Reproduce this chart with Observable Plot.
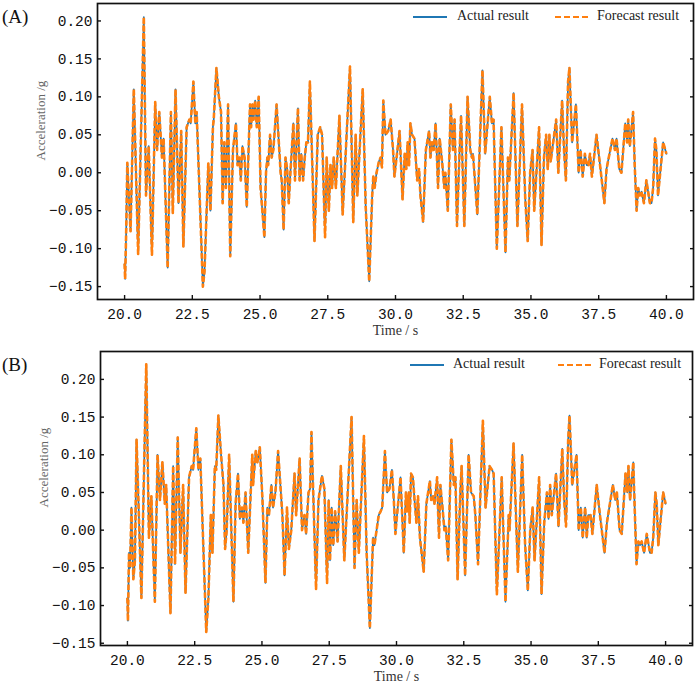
<!DOCTYPE html>
<html><head><meta charset="utf-8">
<script src="https://cdn.jsdelivr.net/npm/d3@7"></script>
<script src="https://cdn.jsdelivr.net/npm/@observablehq/plot@0.6"></script>
<style>
body{margin:0;background:#fff;}
#wrap{position:relative;width:699px;height:688px;font-family:"Liberation Serif",serif;color:#111;overflow:hidden;}
.panel{position:absolute;left:0;}
.tag{position:absolute;left:2px;font-size:19px;line-height:1;}
.lg{position:absolute;font-size:14px;line-height:1;white-space:nowrap;color:#222;}
.sw{position:absolute;}
</style></head><body>
<div id="wrap"></div>
<script>
// ---- Panel (A) : time (s) and acceleration (g), turning points
const timeA = [20.00,20.02,20.06,20.10,20.22,20.34,20.50,20.71,20.79,20.89,21.01,21.13,21.20,21.28,21.38,21.44,21.59,21.71,21.78,21.88,21.99,22.09,22.17,22.29,22.39,22.44,22.54,22.61,22.66,22.77,22.89,22.95,23.09,23.17,23.26,23.29,23.39,23.48,23.56,23.62,23.68,23.74,23.82,23.90,24.00,24.11,24.17,24.24,24.29,24.35,24.43,24.51,24.63,24.67,24.72,24.76,24.82,24.88,24.95,25.02,25.16,25.22,25.27,25.30,25.37,25.43,25.49,25.61,25.76,25.80,25.87,25.94,26.00,26.06,26.12,26.23,26.29,26.40,26.46,26.52,26.59,26.65,26.71,26.77,26.84,27.01,27.13,27.22,27.29,27.40,27.46,27.54,27.60,27.66,27.72,27.80,27.93,28.05,
28.32,28.44,28.53,28.59,28.79,28.90,29.03,29.14,29.18,29.23,29.30,29.39,29.45,29.50,29.55,29.63,29.73,29.82,29.91,29.96,30.04,30.15,30.26,30.34,30.40,30.45,30.50,30.55,30.61,30.70,30.80,30.87,30.92,31.02,31.12,31.24,31.29,31.35,31.41,31.48,31.53,31.57,31.63,31.72,31.80,31.84,31.93,32.04,32.12,32.18,32.27,32.36,32.42,32.54,32.66,32.76,32.82,32.86,32.91,33.02,33.21,33.31,33.48,33.56,33.62,33.74,33.91,34.06,34.15,34.20,34.36,34.50,34.67,34.79,34.88,34.97,35.06,35.12,35.30,35.39,35.48,35.56,35.62,35.68,35.73,35.93,36.01,36.15,36.22,36.29,36.37,36.42,36.52,36.66,36.76,36.83,36.91,36.99,37.06,37.12,37.18,37.25,37.42,37.55,37.71,37.79,38.01,38.10,38.16,38.26,38.34,38.48,38.55,38.59,38.65,38.77,38.83,38.90,38.96,39.02,39.08,39.17,39.26,39.39,39.45,39.51,39.58,39.63,39.69,39.88,40.00];
const actualA = [-0.12,-0.14,-0.075,0.013,-0.077,0.11,-0.107,0.205,-0.03,0.035,-0.108,0.093,0.03,0.08,0.02,0.045,-0.125,0.08,-0.053,0.11,-0.04,0.055,-0.097,0.06,0.07,0.065,0.12,0.065,0.08,-0.03,-0.15,-0.13,0.012,-0.05,0.06,0.07,0.138,0.1,0.08,-0.04,0.04,-0.02,0.09,-0.11,0.03,0.065,0.01,0.02,-0.01,0.035,0.02,-0.045,0.09,0.06,0.09,0.07,0.095,0.06,0.1,-0.02,-0.085,0.0,0.02,0.01,0.05,0.02,0.03,0.09,0.0,-0.01,-0.075,0.02,0.005,-0.04,0.0,0.065,-0.01,0.085,-0.01,0.025,-0.01,0.02,0.04,0.04,0.12,-0.09,0.05,0.06,0.05,-0.085,0.02,-0.05,0.01,-0.02,0.02,-0.02,0.075,-0.055,
0.14,-0.065,0.05,-0.03,0.11,-0.045,-0.143,-0.03,-0.005,-0.02,0.0,0.015,0.02,0.007,0.095,0.05,0.055,0.07,0.03,-0.005,0.02,0.055,-0.035,0.025,0.005,0.04,0.01,0.065,0.05,0.045,-0.01,0.005,-0.03,-0.065,0.03,0.055,0.02,0.04,0.03,0.065,0.02,-0.02,0.045,0.015,-0.02,0.0,-0.05,0.09,0.03,0.07,-0.07,0.025,0.075,-0.07,0.1,0.03,0.02,0.025,0.0,-0.055,0.135,0.025,0.1,0.065,0.07,-0.1,0.06,-0.105,0.02,-0.01,0.105,-0.07,0.09,-0.035,-0.09,0.0,0.03,-0.05,0.06,-0.095,0.02,0.05,0.005,0.05,0.015,0.07,0.0,0.095,0.03,-0.01,0.12,0.138,0.04,0.09,0.0,0.03,-0.005,0.025,0.01,0.01,0.025,-0.005,0.05,0.01,-0.04,0.005,0.045,0.03,0.045,0.005,0.0,0.065,0.04,0.07,0.035,0.08,0.01,-0.05,-0.02,-0.03,-0.025,-0.04,-0.01,-0.04,-0.04,-0.02,0.045,0.03,-0.03,0.04,0.025];
// forecast curve coincides with the actual curve in the figure
const forecastA = actualA;

// ---- Panel (B)
const timeB = [20.00,20.02,20.06,20.10,20.15,20.22,20.28,20.34,20.52,20.70,20.80,20.89,21.02,21.12,21.21,21.30,21.39,21.44,21.60,21.70,21.77,21.87,21.97,22.07,22.16,22.29,22.39,22.44,22.56,22.64,22.71,22.80,22.93,23.01,23.10,23.16,23.25,23.30,23.38,23.48,23.57,23.63,23.69,23.78,23.94,24.02,24.11,24.18,24.26,24.31,24.39,24.49,24.64,24.67,24.77,24.83,24.92,25.02,25.13,25.20,25.26,25.35,25.41,25.50,25.60,25.76,25.84,25.93,26.00,26.09,26.21,26.27,26.40,26.49,26.58,26.64,26.73,26.79,26.84,27.01,27.10,27.16,27.23,27.32,27.42,27.48,27.53,27.59,27.65,27.72,27.81,27.93,28.06,
28.33,28.44,28.52,28.60,28.79,28.89,29.01,29.10,29.13,29.18,29.26,29.34,29.41,29.47,29.57,29.65,29.74,29.83,29.90,29.96,30.02,30.15,30.27,30.35,30.40,30.46,30.49,30.54,30.61,30.67,30.74,30.80,30.87,31.01,31.11,31.24,31.29,31.36,31.41,31.51,31.55,31.58,31.63,31.71,31.78,31.83,31.92,32.04,32.13,32.19,32.27,32.37,32.42,32.55,32.68,32.77,32.87,32.93,33.03,33.21,33.31,33.46,33.55,33.61,33.73,33.91,34.05,34.17,34.20,34.35,34.51,34.67,34.78,34.88,34.97,35.06,35.13,35.30,35.39,35.49,35.59,35.65,35.71,35.77,35.93,36.02,36.16,36.23,36.30,36.38,36.43,36.53,36.69,36.77,36.85,36.92,37.01,37.07,37.13,37.21,37.28,37.44,37.56,37.73,37.82,38.04,38.13,38.19,38.29,38.37,38.51,38.58,38.62,38.68,38.80,38.86,38.92,38.99,39.05,39.11,39.20,39.30,39.42,39.48,39.54,39.62,39.67,39.73,39.91,40.00];
const actualB = [-0.09,-0.12,-0.03,-0.05,0.03,-0.065,-0.04,0.12,-0.09,0.22,-0.01,0.045,-0.095,0.1,0.04,0.09,0.035,0.06,-0.11,0.085,-0.045,0.123,-0.03,0.06,-0.083,0.07,0.085,0.08,0.135,0.08,0.095,0.0,-0.135,-0.09,0.02,-0.03,0.085,0.08,0.152,0.1,0.06,-0.025,0.0,0.1,-0.095,0.035,0.075,0.015,0.03,0.01,0.05,-0.03,0.1,0.06,0.105,0.09,0.11,0.04,-0.07,0.03,0.02,0.06,0.03,0.05,0.105,0.02,-0.06,0.03,-0.025,0.0,0.075,0.02,0.095,0.0,0.02,-0.005,0.05,0.055,0.13,-0.078,0.04,0.055,0.072,0.055,-0.07,0.04,-0.04,0.03,-0.02,0.025,-0.015,0.085,-0.04,
0.15,-0.05,0.04,-0.03,0.125,-0.03,-0.13,-0.04,-0.01,-0.02,0.0,0.02,0.025,0.03,0.105,0.05,0.055,0.08,0.04,-0.005,0.02,0.07,-0.03,0.05,0.025,0.05,0.01,0.075,0.07,0.04,0.01,0.045,-0.01,-0.055,0.035,0.065,0.04,0.045,0.035,0.07,0.02,-0.01,0.06,0.03,0.0,0.005,-0.04,0.12,0.06,0.07,-0.065,0.05,0.085,-0.06,0.1,0.05,0.045,0.02,-0.045,0.145,0.03,0.085,0.08,0.075,-0.085,0.07,-0.095,0.02,0.0,0.115,-0.055,0.1,-0.02,-0.08,0.0,0.03,-0.04,0.07,-0.085,0.01,0.05,0.015,0.06,0.02,0.075,0.005,0.108,0.04,0.005,0.12,0.152,0.06,0.1,0.0,0.03,-0.01,0.03,-0.01,0.02,0.02,-0.005,0.06,0.02,-0.03,0.01,0.06,0.04,0.05,0.0,-0.005,0.075,0.05,0.085,0.04,0.09,0.02,-0.045,-0.015,-0.02,-0.015,-0.03,-0.005,-0.03,-0.03,-0.01,0.05,0.035,-0.02,0.05,0.035];
const forecastB = actualB;

// ---- axes
const xTicks = [20, 22.5, 25, 27.5, 30, 32.5, 35, 37.5, 40];
const yTicks = [-0.15, -0.10, -0.05, 0.00, 0.05, 0.10, 0.15, 0.20];
const xLabel = "Time / s";
const yLabel = "Acceleration /g";
const seriesNames = ["Actual result", "Forecast result"];
const panelTags = ["(A)", "(B)"];

const BLUE = "#1f77b4", ORANGE = "#ff7f0e";
const wrap = document.getElementById("wrap");

function makePanel(cfg) {
  const rows = cfg.time.map((t, i) => ({t, a: cfg.actual[i], f: cfg.forecast[i]}));
  const fmtY = d => d.toFixed(2).replace("-", "\u2212");
  const fmtX = d => d.toFixed(1);
  const chart = Plot.plot({
    width: 699, height: cfg.height,
    marginTop: cfg.mt, marginBottom: cfg.mb, marginLeft: cfg.ml, marginRight: cfg.mr,
    style: {fontFamily: "Liberation Serif", background: "white", color: "#111", overflow: "visible"},
    x: {domain: [19, 41], label: null},
    y: {domain: cfg.yDomain, label: null},
    marks: [
      Plot.line(rows, {x: "t", y: "a", stroke: BLUE, strokeWidth: 1.7}),
      Plot.line(rows, {x: "t", y: "f", stroke: ORANGE, strokeWidth: 2.6, strokeDasharray: "5.5,2.1", strokeLinecap: "butt", strokeLinejoin: "round"}),
      Plot.axisY({ticks: yTicks, tickSize: 0, tickPadding: 5, tickFormat: fmtY, fontFamily: "Liberation Mono", fontSize: 14.5, fill: "#111", label: null}),
      Plot.axisY({ticks: yTicks, anchor: "left", tickSize: 4, dx: 4, fill: "none", stroke: "#111", strokeWidth: 1.4, label: null}),
      Plot.axisY({ticks: yTicks, anchor: "right", tickSize: 4, dx: -4, fill: "none", stroke: "#111", strokeWidth: 1.4, label: null}),
      Plot.axisX({ticks: xTicks, tickSize: 0, tickPadding: 9, tickFormat: fmtX, fontFamily: "Liberation Mono", fontSize: 14.5, fill: "#111", label: null}),
      Plot.axisX({ticks: xTicks, anchor: "bottom", tickSize: 4, dy: -4, fill: "none", stroke: "#111", strokeWidth: 1.4, label: null}),
      Plot.text([xLabel], {frameAnchor: "bottom", dy: cfg.xLabDy, fontSize: 14, fill: "#333", fontFamily: "Liberation Serif"}),
      Plot.text([yLabel], {frameAnchor: "left", dx: -57, dy: cfg.yLabDy, rotate: -90, fontSize: 13, fill: "#666", fontFamily: "Liberation Serif"}),
      Plot.frame({stroke: "#111", strokeWidth: 1.7})
    ]
  });
  const holder = document.createElement("div");
  holder.className = "panel";
  holder.style.top = cfg.top + "px";
  holder.appendChild(chart);
  wrap.appendChild(holder);

  const tag = document.createElement("div");
  tag.className = "tag";
  tag.style.top = cfg.tagTop + "px";
  tag.textContent = cfg.tag;
  wrap.appendChild(tag);

  // legend (no frame), upper right inside the axes
  const L = cfg.legend;
  const sw1 = document.createElementNS("http://www.w3.org/2000/svg", "svg");
  sw1.setAttribute("class", "sw"); sw1.setAttribute("width", 36); sw1.setAttribute("height", 6);
  sw1.style.left = L.x1 + "px"; sw1.style.top = (L.y - 3) + "px";
  sw1.innerHTML = `<line x1="0" y1="3" x2="34" y2="3" stroke="${BLUE}" stroke-width="2"/>`;
  wrap.appendChild(sw1);
  const t1 = document.createElement("div");
  t1.className = "lg"; t1.textContent = seriesNames[0];
  t1.style.left = L.t1 + "px"; t1.style.top = (L.y - 8) + "px";
  wrap.appendChild(t1);
  const sw2 = document.createElementNS("http://www.w3.org/2000/svg", "svg");
  sw2.setAttribute("class", "sw"); sw2.setAttribute("width", 36); sw2.setAttribute("height", 6);
  sw2.style.left = L.x2 + "px"; sw2.style.top = (L.y - 3) + "px";
  sw2.innerHTML = `<line x1="0" y1="3" x2="33" y2="3" stroke="${ORANGE}" stroke-width="2" stroke-dasharray="6,3"/>`;
  wrap.appendChild(sw2);
  const t2 = document.createElement("div");
  t2.className = "lg"; t2.textContent = seriesNames[1];
  t2.style.left = L.t2 + "px"; t2.style.top = (L.y - 8) + "px";
  wrap.appendChild(t2);
}

makePanel({time: timeA, actual: actualA, forecast: forecastA, yDomain: [-0.167, 0.223],
  top: 0, height: 345, mt: 3, mb: 46, ml: 97, mr: 6, xLabDy: 35, yLabDy: 9,
  tag: panelTags[0], tagTop: 7, legend: {x1: 413, t1: 457, x2: 555, t2: 597, y: 17}});
makePanel({time: timeB, actual: actualB, forecast: forecastB, yDomain: [-0.153, 0.237],
  top: 348, height: 340, mt: 3, mb: 43, ml: 100, mr: 7, xLabDy: 35, yLabDy: 9,
  tag: panelTags[1], tagTop: 355, legend: {x1: 410, t1: 453, x2: 558, t2: 599, y: 365}});
</script>
</body></html>
